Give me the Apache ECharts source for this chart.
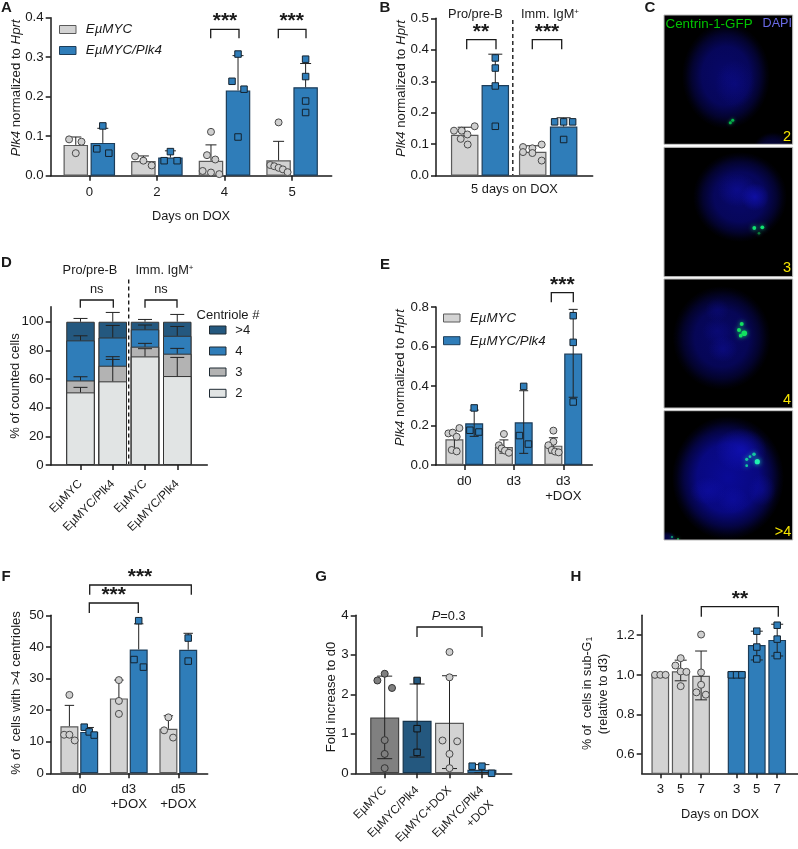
<!DOCTYPE html>
<html><head><meta charset="utf-8">
<script src="https://cdn.jsdelivr.net/npm/echarts@6/dist/echarts.min.js"></script>
<style>html,body{margin:0;padding:0;background:#fff}#c{width:798px;height:849px}</style></head>
<body><div id="c"></div>
<script>
/* ---------- DATA ---------- */
const MYC='EµMYC', PLK='EµMYC/Plk4';
// Panel A
const A_days=['0','2','4','5'];
const A_myc_mean=[.078,.037,.038,.039], A_myc_hi=[.098,.05,.078,.087];
const A_plk_mean=[.083,.046,.216,.224], A_plk_hi=[.12,.063,.304,.284];
const A_myc_pts=[[.092,.086,.057],[.049,.038,.026],[.111,.052,.041,.012,.008,.004],[.135,.027,.024,.020,.016,.009]];
const A_plk_pts=[[.126,.068,.057],[.061,.038,.038],[.308,.239,.219,.098],[.295,.251,.189,.160]];
// Panel B
const B_groups=['Pro/pre-B','Imm. IgM+'];
const B_myc_mean=[.130,.076], B_myc_hi=[.154,.095];
const B_plk_mean=[.288,.156], B_plk_hi=[.386,.184];
const B_myc_pts=[[.143,.143,.157,.131,.117,.099],[.091,.075,.087,.072,.099,.048]];
const B_plk_pts=[[.374,.342,.285,.157],[.171,.171,.171,.115]];
// Panel D
const D_cats=[MYC,PLK,MYC,PLK];
const D_two=[50.7,58.4,75.8,62.1], D_three=[8.3,10.9,6.8,15.6], D_four=[28,19.7,12.1,12.5], D_more=[13,11,5.3,9.8];
const D_cap2=[54.2,73.7,81.2,75.1], D_cap3=[61.6,75.6,84.9,81.4], D_cap4=[90.2,97.4,97.7,96.7], D_capM=[102.3,106.5,101.6,105.1];
// Panel E
const E_cats=['d0','d3','d3\n+DOX'];
const E_myc_mean=[.130,.091,.098], E_myc_hi=[.175,.127,.138], E_myc_lo=[.085,.06,.06];
const E_plk_mean=[.211,.216,.564], E_plk_hi=[.278,.376,.788], E_plk_lo=[.145,.059,.343];
const E_myc_pts=[[.187,.160,.164,.143,.076,.069],[.157,.100,.084,.073,.062],[.174,.118,.100,.076,.068,.064]];
const E_plk_pts=[[.289,.176,.167],[.398,.149,.106],[.756,.621,.319]];
// Panel F
const F_cats=['d0','d3\n+DOX','d5\n+DOX'];
const F_myc_mean=[14.9,23.7,14.1], F_myc_hi=[21.5,29.5,18.2];
const F_plk_mean=[13.1,39.2,39.1], F_plk_hi=[14.5,47.3,44.3];
const F_myc_pts=[[24.8,12.2,12.2,10.4],[29.5,22.9,18.8],[17.7,13.6,11.3]];
const F_plk_pts=[[14.6,13.1,12.1],[48.3,36,33.6],[42.8,35.5]];
// Panel G
const G_cats=[MYC,PLK,'EµMYC+DOX',PLK];
const G_cat_suffix='+DOX';
const G_mean=[1.41,1.33,1.28,.09], G_hi=[2.46,2.26,2.47,.22], G_lo=[.37,.41,.12,.02];
const G_pts=[[2.35,2.52,2.16,.84,.49,.13],[2.35,1.13,.53],[3.07,2.43,.83,.81,.49,.13],[.18,.18,0]];
// Panel H
const H_days=['3','5','7','3','5','7'];
const H_myc_mean=[1.0,1.018,.995], H_myc_hi=[1.0,1.074,1.12], H_myc_lo=[1.0,.97,.874];
const H_plk_mean=[1.017,1.15,1.176], H_plk_hi=[1.017,1.22,1.255], H_plk_lo=[1.017,1.075,1.095];
const H_myc_pts=[[1,1,1],[1.047,1.084,1.017,1.015,.943],[1.203,1.012,.95,.912,.90]];
const H_plk_pts=[[1,1,1],[1.22,1.14,1.08],[1.25,1.18,1.097]];

/* ---------- LAYOUT (point scatter offsets in px, colours, panel frames) ---------- */
const A_myc_jit=[[-6.7,5.7,0],[-8.3,0,8.3],[0,-4,4.3,-8.3,0,8.3],[0,-8.3,-4.3,0,4.3,9]];
const A_plk_jit=[[0,-6,6],[0,-6.3,6.7],[0,-6,6,0],[0,0,0,0]];
const B_myc_jit=[[-10.7,-3,10,2.7,-4,3],[-9.7,-9.7,-.3,-.3,9,9]];
const B_plk_jit=[[0,0,0,0],[-9,0,9,0]];
const E_myc_jit=[[5,-6,-1.7,2.3,-2.7,2.3],[0,-5,-2.3,1,5],[0,0,-5,-1.7,1.7,5.3]];
const E_plk_jit=[[0,-4.3,4.7],[0,-4.3,4.7],[0,0,0]];
const F_myc_jit=[[0,-5.3,0,5.3],[0,0,0],[0,-4.3,4.7]];
const F_plk_jit=[[-5,0,5],[0,-4.7,4.7],[0,0]];
const G_jit=[[-7.3,0,7.3,0,0,0],[0,0,0],[0,0,-7,7.7,0,0],[-9.7,0,9.7]];
const H_myc_jit=[[-5.3,0,5.3],[-5.3,0,0,5.7,0],[0,0,0,-4.7,4.7]];
const H_plk_jit=[[-5.3,0,5.3],[0,0,0],[0,0,0]];

const FONT='"Liberation Sans",Arial,sans-serif';
const INK='#1a1a1a';
const GREY='#d3d3d3', BLUE='#2f7db9', NAVY='#24587f', DGREY='#808080', LGREY='#e1e4e4', MGREY='#b3b3b3';
const GREY_B='#5a5a5a', BLUE_B='#1d3d59';

const option={animation:false,backgroundColor:'#fff',grid:[],xAxis:[],yAxis:[],series:[],graphic:{elements:[]}};
const G=option.graphic.elements;

function panel(c){
  const id=option.grid.length, s=c.step, t0=c.t0;
  option.grid.push({left:c.left,top:c.top,width:c.right-c.left,height:c.bottom-c.top,show:false,containLabel:false,outerBoundsMode:'none'});
  const xmin=(c.left-t0)/s, xmax=(c.right-t0)/s;
  const tv=c.xt||[];
  const lab=c.xl||[];
  option.xAxis.push({type:'value',gridIndex:id,min:xmin,max:xmax,splitLine:{show:false},
    axisLine:{show:true,onZero:false,lineStyle:{color:INK,width:1.5}},
    axisTick:{show:tv.length>0,length:5,customValues:tv,lineStyle:{color:INK,width:1.5}},
    axisLabel:{show:tv.length>0,customValues:tv,rotate:c.rot||0,margin:c.lm||8,fontFamily:FONT,fontSize:c.xs||13.2,color:INK,
      lineHeight:c.lh||15,hideOverlap:false,showMinLabel:true,showMaxLabel:true,
      formatter:v=>{let k=0,b=1e9;tv.forEach((t,i)=>{if(Math.abs(t-v)<b){b=Math.abs(t-v);k=i}});return lab[k]}}});
  option.yAxis.push({type:'value',gridIndex:id,min:c.ymin,max:c.ymax,splitLine:{show:false},
    axisLine:{show:true,onZero:false,lineStyle:{color:INK,width:1.5}},
    axisTick:{show:true,length:5,customValues:c.yt,lineStyle:{color:INK,width:1.5}},
    axisLabel:{customValues:c.yt,margin:7,fontFamily:FONT,fontSize:c.ys||13.3,color:INK,hideOverlap:false,showMinLabel:true,showMaxLabel:true,
      formatter:v=>v.toFixed(c.yd)}});
  return {id,ppu:s,cap:c.cap||5,bw:c.bw};
}
function errSeries(p,name,rows){
  const cap=p.cap;
  option.series.push({type:'custom',name:name+' SD',xAxisIndex:p.id,yAxisIndex:p.id,z:3,silent:true,clip:false,
    encode:{x:0,y:[1,2]},data:rows,
    renderItem:(params,api)=>{
      const x=api.value(0), a=api.coord([x,api.value(1)]), b=api.coord([x,api.value(2)]);
      const st={stroke:'#222',lineWidth:1,fill:null};
      const L=(x1,y1,x2,y2)=>({type:'line',shape:{x1,y1,x2,y2},style:st});
      const ch=[L(a[0],a[1],b[0],b[1]),L(b[0]-cap,b[1],b[0]+cap,b[1])];
      if(api.value(3)) ch.push(L(a[0]-cap,a[1],a[0]+cap,a[1]));
      return {type:'group',children:ch};
    }});
}
function group(p,name,xs,mean,hi,lo,pts,jit,sty){
  option.series.push({type:'bar',name,xAxisIndex:p.id,yAxisIndex:p.id,barWidth:p.bw,barGap:'-100%',z:2,silent:true,
    itemStyle:{color:sty.color,borderColor:sty.border,borderWidth:1.2},data:xs.map((x,i)=>[x,mean[i]])});
  errSeries(p,name,xs.map((x,i)=>[x,lo?lo[i]:mean[i],hi[i],lo?1:0]));
  const d=[];
  xs.forEach((x,i)=>pts[i].forEach((v,k)=>{
    d.push({value:[x+jit[i][k]/p.ppu,v]});
  }));
  option.series.push({type:'scatter',name:name+' points',xAxisIndex:p.id,yAxisIndex:p.id,z:4,silent:true,clip:false,
    symbol:sty.sym==='s'?'rect':'circle',symbolSize:sty.sym==='s'?6.5:7,
    itemStyle:{color:sty.ptc||sty.color,borderColor:sty.ptb||'#3a3a3a',borderWidth:1,opacity:1},data:d});
}
const SM={color:GREY,border:GREY_B,sym:'c',ptb:'#4a4a4a',ptc:'#cfcfcf'};
const SP={color:BLUE,border:BLUE_B,sym:'s',ptb:'#14222e'};

/* ---- text / annotation helpers ---- */
function T(x,y,text,o={}){
  const st={text,fontFamily:FONT,fontSize:o.size||13,fontWeight:o.w||'normal',fontStyle:o.i?'italic':'normal',fill:o.fill||INK,
    align:o.align||'center',verticalAlign:'middle'};
  if(o.rich) st.rich=o.rich;
  G.push({type:'text',x,y,rotation:o.rot||0,z:o.z||100,silent:true,style:st});
}
const it=(size)=>({fontFamily:FONT,fontSize:size,fontStyle:'italic',fill:INK});
const nr=(size)=>({fontFamily:FONT,fontSize:size,fill:INK});
function bracket(x1,x2,top,bot){
  G.push({type:'polyline',z:100,silent:true,shape:{points:[[x1,bot],[x1,top],[x2,top],[x2,bot]]},style:{stroke:INK,lineWidth:1.3,fill:null}});
}
function stars(x,y,s){T(x,y+3,s,{size:21,w:'bold'});}
function swatch(x,y,w,h,fill,stroke){G.push({type:'rect',z:100,silent:true,shape:{x,y,width:w,height:h},style:{fill,stroke,lineWidth:1}});}
function dashed(x,y1,y2,under){
  if(under) G.push({type:'line',z:99,silent:true,shape:{x1:x,y1,x2:x,y2},style:{stroke:'#fff',lineWidth:2.4}});
  G.push({type:'line',z:100,silent:true,shape:{x1:x,y1,x2:x,y2},style:{stroke:INK,lineWidth:1.4,lineDash:[4,3]}});
}

/* ---------- PANEL A ---------- */
{
  const p=panel({left:50.7,right:331.7,top:17.7,bottom:175.7,ymin:0,ymax:.4,yt:[0,.1,.2,.3,.4],yd:1,t0:89.3,step:67.6,
    xt:[0,1,2,3],xl:A_days,bw:24.5,cap:5.5,lm:9});
  group(p,MYC,[-.2,.8,1.8,2.8],A_myc_mean,A_myc_hi,null,A_myc_pts,A_myc_jit,SM);
  group(p,PLK,[.2,1.2,2.2,3.2],A_plk_mean,A_plk_hi,null,A_plk_pts,A_plk_jit,SP);
  T(6.5,8,'A',{size:15,w:'bold'});
  T(16.7,88,'{i|Plk4}{n| normalized to }{i|Hprt}',{rot:Math.PI/2,rich:{i:it(13.2),n:nr(13.2)}});
  T(191,216,'Days on DOX',{size:12.8});
  swatch(59.5,25.5,16.5,8,GREY,GREY_B); swatch(59.5,46.5,16.5,8,BLUE,BLUE_B);
  T(85.7,29.5,MYC,{i:1,align:'left',size:13.4}); T(85.7,50.7,PLK,{i:1,align:'left',size:13.4});
  bracket(210.7,239,29.3,38.3); stars(225,18.3,'***');
  bracket(278.3,306,29.3,38.3); stars(291.7,18.3,'***');
}
/* ---------- PANEL B ---------- */
{
  const p=panel({left:436,right:592.7,top:18.3,bottom:175.7,ymin:0,ymax:.5,yt:[0,.1,.2,.3,.4,.5],yd:1,t0:464.7,step:68,bw:27.5,cap:7});
  group(p,MYC,[0,1],B_myc_mean,B_myc_hi,null,B_myc_pts,B_myc_jit,SM);
  group(p,PLK,[.45,1.455],B_plk_mean,B_plk_hi,null,B_plk_pts,B_plk_jit,SP);
  T(385,7.5,'B',{size:15,w:'bold'});
  T(401.7,88.5,'{i|Plk4}{n| normalized to }{i|Hprt}',{rot:Math.PI/2,rich:{i:it(13.2),n:nr(13.2)}});
  T(514.5,189,'5 days on DOX',{size:12.8});
  T(475.5,14,B_groups[0],{size:12.8});
  T(550,14,'{n|Imm. IgM}{s|+}',{rich:{n:nr(12.8),s:{...nr(8),verticalAlign:'top'}}});
  dashed(512.8,20,175);
  bracket(466.7,496,39.7,49.3); stars(481,29.3,'**');
  bracket(532.3,561.7,39.7,49.3); stars(547,29.3,'***');
}
/* ---------- PANEL D ---------- */
{
  const p=panel({left:50.7,right:207.3,top:306.7,bottom:465,ymin:0,ymax:110.5,yt:[0,20,40,60,80,100],yd:0,t0:80.5,step:32.25,
    xt:[0,1,2,3],xl:D_cats,rot:45,lm:17,xs:11.8,bw:28.5,cap:7});
  const xs=[0,1,2,3];
  const base=[D_two,D_three,D_four,D_more], names=['2','3','4','>4'], cols=[LGREY,MGREY,BLUE,NAVY];
  const cum=l=>xs.map(i=>{let s=0;for(let k=0;k<=l;k++)s+=base[k][i];return s;});
  [3,2,1,0].forEach(l=>{
    const c=cum(l);
    option.series.push({type:'bar',name:names[l],barGap:'-100%',xAxisIndex:p.id,yAxisIndex:p.id,barWidth:p.bw,z:2,silent:true,
      itemStyle:{color:cols[l],borderColor:'#333',borderWidth:1},data:xs.map(i=>[i,c[i]])});
  });
  const caps=[D_cap2,D_cap3,D_cap4,D_capM];
  caps.forEach((cp,l)=>{const c=cum(l);errSeries(p,'level'+names[l],xs.map(i=>[i,c[i],cp[i],0]));});
  T(6.5,263,'D',{size:15,w:'bold'});
  T(15,386,'% of counted cells',{rot:Math.PI/2,size:13});
  T(90,270,B_groups[0],{size:12.8});
  T(164.5,270,'{n|Imm. IgM}{s|+}',{rich:{n:nr(12.8),s:{...nr(8),verticalAlign:'top'}}});
  dashed(128.7,279.5,464,true);
  T(96.7,289,'ns',{size:12.8}); T(161,289,'ns',{size:12.8});
  bracket(80.3,113.3,300,307.7); bracket(145,177,300,307.7);
  T(228,315.7,'Centriole #',{size:13});
  [['>4',NAVY,330],['4',BLUE,351],['3',MGREY,372],['2',LGREY,393.3]].forEach(([t,c,y])=>{
    swatch(209.5,y-4,16.5,8,c,'#1f2a33');
    T(235.3,y,t,{align:'left',size:13});
  });
}
/* ---------- PANEL E ---------- */
{
  const p=panel({left:436,right:592.3,top:307,bottom:465,ymin:0,ymax:.8,yt:[0,.2,.4,.6,.8],yd:1,t0:464.3,step:49.5,
    xt:[0,1,2],xl:E_cats,bw:18,cap:4.5,lm:9});
  group(p,MYC,[-.2,.8,1.8],E_myc_mean,E_myc_hi,E_myc_lo,E_myc_pts,E_myc_jit,SM);
  group(p,PLK,[.2,1.2,2.2],E_plk_mean,E_plk_hi,E_plk_lo,E_plk_pts,E_plk_jit,SP);
  T(385,265,'E',{size:15,w:'bold'});
  T(400.7,377.7,'{i|Plk4}{n| normalized to }{i|Hprt}',{rot:Math.PI/2,rich:{i:it(13.2),n:nr(13.2)}});
  swatch(443.5,314,16.5,8,GREY,GREY_B); swatch(443.5,336.7,16.5,8,BLUE,BLUE_B);
  T(470,318.7,MYC,{i:1,align:'left',size:13.3}); T(470,341,PLK,{i:1,align:'left',size:13.3});
  bracket(551.3,573.3,292.7,302.3); stars(562.3,282,'***');
}
/* ---------- PANEL F ---------- */
{
  const p=panel({left:51,right:207.7,top:615.3,bottom:773.3,ymin:0,ymax:50,yt:[0,10,20,30,40,50],yd:0,t0:79.3,step:49.5,
    xt:[0,1,2],xl:F_cats,bw:18,cap:4.7,lm:9});
  group(p,MYC,[-.2,.8,1.8],F_myc_mean,F_myc_hi,null,F_myc_pts,F_myc_jit,SM);
  group(p,PLK,[.2,1.2,2.2],F_plk_mean,F_plk_hi,null,F_plk_pts,F_plk_jit,SP);
  T(6,576.7,'F',{size:15,w:'bold'});
  T(16.7,693,'% of  cells with >4 centrioles',{rot:Math.PI/2,size:13});
  bracket(89.7,191.3,585,594.7); stars(140,574.3,'***');
  bracket(89.3,138.3,603,613); stars(113.7,592.7,'***');
}
/* ---------- PANEL G ---------- */
{
  const p=panel({left:355.7,right:511.7,top:615.3,bottom:773.3,ymin:0,ymax:4,yt:[0,1,2,3,4],yd:0,t0:384.7,step:32.4,
    xt:[0,1,2,3],xl:G_cats,rot:45,lm:15,xs:11.8,bw:29,cap:7.5});
  const sty=[{color:DGREY,border:'#444',sym:'c',ptc:DGREY,ptb:'#333'},
    {color:NAVY,border:'#16344c',sym:'s',ptc:NAVY,ptb:'#111'},
    {color:GREY,border:GREY_B,sym:'c',ptc:'#cfcfcf',ptb:'#4a4a4a'},
    {color:BLUE,border:BLUE_B,sym:'s',ptb:'#14222e'}];
  const gNames=[MYC,PLK,'EµMYC+DOX',PLK+G_cat_suffix];
  G_cats.forEach((n,i)=>group(p,gNames[i],[i],[G_mean[i]],[G_hi[i]],[G_lo[i]],[G_pts[i]],[G_jit[i]],sty[i]));
  T(321,576.7,'G',{size:15,w:'bold'});
  T(331.7,697,'Fold increase to d0',{rot:Math.PI/2,size:13});
  T(448.7,616,'{i|P}{n|=0.3}',{rich:{i:it(12.8),n:nr(12.8)}});
  bracket(417,482,627,637);
  T(480,814,G_cat_suffix,{rot:Math.PI/4,size:11.8});
}
/* ---------- PANEL H ---------- */
{
  const p=panel({left:641.7,right:798,top:615.3,bottom:773.3,ymin:.504,ymax:1.3,yt:[.6,.8,1,1.2],yd:1,t0:660.3,step:20.4,
    xt:[0,1,2,3.74,4.73,5.73],xl:H_days,bw:17.7,cap:6,lm:9});
  group(p,MYC,[0,1,2],H_myc_mean,H_myc_hi,H_myc_lo,H_myc_pts,H_myc_jit,SM);
  group(p,PLK,[3.74,4.73,5.73],H_plk_mean,H_plk_hi,H_plk_lo,H_plk_pts,H_plk_jit,SP);
  T(576,577,'H',{size:15,w:'bold'});
  T(587.7,693.5,'{n|% of  cells in sub-G}{s|1}',{rot:Math.PI/2,rich:{n:nr(12.6),s:{...nr(8.5),verticalAlign:'bottom'}}});
  T(603.3,694,'(relative to d3)',{rot:Math.PI/2,size:12.6});
  T(720,814,'Days on DOX',{size:12.8});
  bracket(701.3,778.3,606.7,616.7); stars(740,596.7,'**');
}
/* ---------- PANEL C (micrographs) ---------- */
{
  const frames=[[664,15,128.7,129.3],[664,147.3,128.7,129.4],[664,279,128.7,129],[664,410.7,128.7,129.3]];
  const black=f=>G.push({type:'rect',z:60,silent:true,shape:{x:f[0],y:f[1],width:f[2],height:f[3]},style:{fill:'#000'}});
  const blob=(x,y,rx,ry,a,rgb,soft)=>{
    const stops=soft
      ?[{offset:0,color:`rgba(${rgb},${a})`},{offset:.5,color:`rgba(${rgb},${a*.55})`},{offset:1,color:`rgba(${rgb},0)`}]
      :[{offset:0,color:`rgba(${rgb},${a})`},{offset:.55,color:`rgba(${rgb},${a*.85})`},{offset:.78,color:`rgba(${rgb},${a*.45})`},{offset:.92,color:`rgba(${rgb},${a*.12})`},{offset:1,color:`rgba(${rgb},0)`}];
    G.push({type:'circle',z:60,silent:true,x,y,scaleX:rx/40,scaleY:ry/40,shape:{cx:0,cy:0,r:40},style:{
      fill:{type:'radial',x:.5,y:.5,r:.5,colorStops:stops}}});
  };
  const N='8,8,112', H='18,18,190';
  black(frames[0]);
  blob(726,76,44,53,.95,N); blob(735,84,20,24,.25,H,1); blob(773,149,20,17,.5,N);
  black(frames[1]);
  blob(740,197,47,45,.95,N); blob(737,190,20,17,.4,H,1); blob(755,197,14,14,.7,H,1);
  black(frames[2]);
  blob(721.7,338,49,52,.9,N); blob(723,349,15,13,.3,H,1); blob(717,331,15,13,.2,H,1); blob(717,310,12,12,.2,H,1);
  black(frames[3]);
  blob(728,478,56,62,1,'10,10,150'); blob(741,450,26,22,.7,H,1); blob(708,491,18,14,.35,H,1); blob(733,500,16,14,.3,H,1); blob(762,490,14,16,.35,H,1);
  blob(667,541,10,10,.5,'10,10,150');
  // centrin spots
  const dot=(x,y,r,c,blur)=>G.push({type:'circle',z:62,silent:true,shape:{cx:x,cy:y,r},style:{fill:c,shadowBlur:blur||3,shadowColor:c}});
  [[730.3,122.7,1.5],[732.7,120.3,1.5]].forEach(d=>dot(d[0],d[1],d[2],'#06b34a'));
  [[754.3,228,1.9],[762.3,227.3,1.9]].forEach(d=>dot(d[0],d[1],d[2],'#10e070',4));
  dot(759,233.3,1.3,'#0a7a3a');
  [[741.7,324,2],[739,330,2],[744.3,333.3,2.8],[740.7,335.7,1.9]].forEach(d=>dot(d[0],d[1],d[2],'#12e060',4));
  [[746.7,459.3,1.6],[754,454.3,1.8],[750,456.7,1.4],[746.7,465.7,1.4]].forEach(d=>dot(d[0],d[1],d[2],'#15c8a0',4));
  dot(757.3,461.7,2.6,'#20f0b0',5);
  dot(672,537,1.1,'#10a070'); dot(678,539,1,'#10a050');
  // cover overflow between and around the frames
  [[655,144.3,143,3],[655,276.7,143,2.3],[655,408,143,2.7],[655,540,143,14],[654,400,10,150],[792.7,10,6,540]].forEach(r=>
    G.push({type:'rect',z:63,silent:true,shape:{x:r[0],y:r[1],width:r[2],height:r[3]},style:{fill:'#fff'}}));
  frames.forEach(f=>G.push({type:'rect',z:64,silent:true,shape:{x:f[0],y:f[1],width:f[2],height:f[3]},style:{fill:null,stroke:'#b9b9b9',lineWidth:1}}));
  T(650,7.5,'C',{size:15,w:'bold'});
  T(665.5,24,'Centrin-1-GFP',{align:'left',size:13.4,fill:'#00c400'});
  T(792,24,'DAPI',{align:'right',size:12.6,fill:'#6a6ae6'});
  T(787,137,'2',{size:14.5,fill:'#f5e400'});
  T(787,267.5,'3',{size:14.5,fill:'#f5e400'});
  T(787,400,'4',{size:14.5,fill:'#f5e400'});
  T(783,532,'>4',{size:14.5,fill:'#f5e400'});
}
const chart=echarts.init(document.getElementById('c'),null,{renderer:'canvas',width:798,height:849});
chart.setOption(option);
</script></body></html>
